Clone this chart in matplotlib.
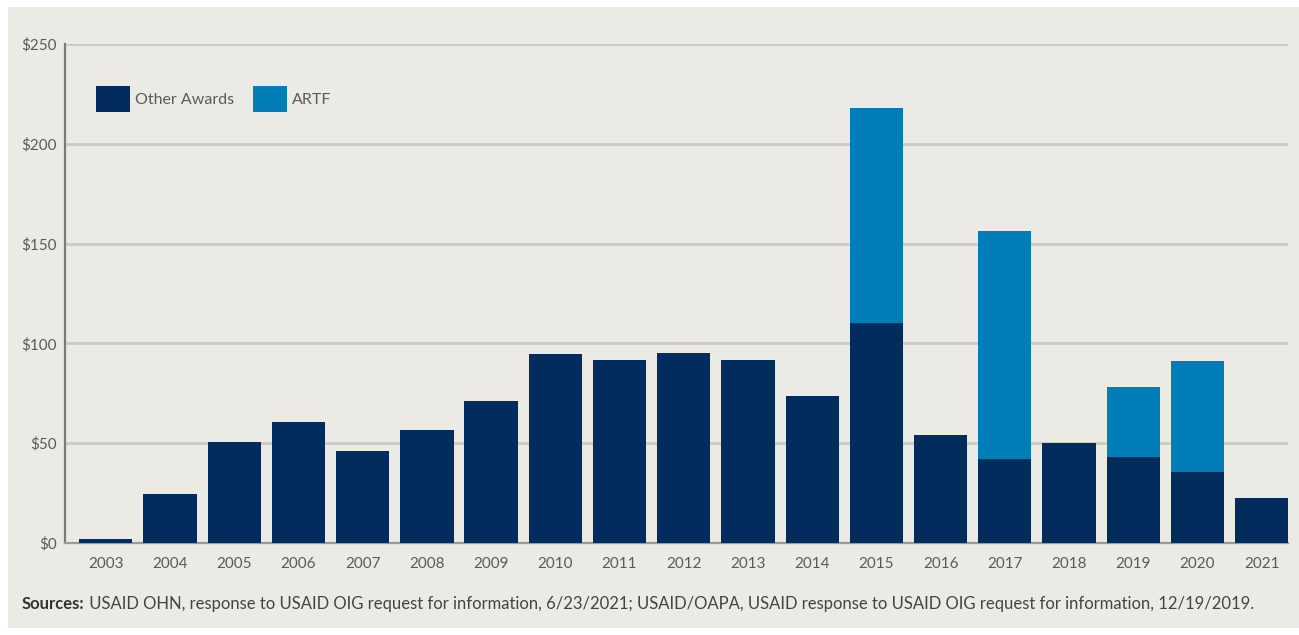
import matplotlib.pyplot as plt
from matplotlib.patches import Rectangle
import numpy as np

# Montos anuales en millones de dolares
anios = ["2003", "2004", "2005", "2006", "2007", "2008", "2009", "2010", "2011", "2012",
         "2013", "2014", "2015", "2016", "2017", "2018", "2019", "2020", "2021"]
otros_premios = [1.9, 24.5, 50.4, 60.7, 46.2, 56.5, 71.2, 94.7, 91.5, 95.2,
                 91.9, 73.4, 110.3, 54.0, 41.9, 50.2, 43.2, 35.6, 22.3]
artf = [0, 0, 0, 0, 0, 0, 0, 0, 0, 0,
        0, 0, 107.6, 0, 114.5, 0, 35.0, 55.7, 0]
ticks_y = [0, 50, 100, 150, 200, 250]

color_otros = "#022b5e"
color_artf = "#017db8"
fondo = "#ebeae4"
gris_texto = "#5a5a5a"
fuente = ["Lato", "DejaVu Sans"]

fig = plt.figure(figsize=(12.99, 6.35), dpi=100)
fig.patch.set_facecolor("white")
# panel de fondo
fig.patches.append(Rectangle((8 / 1299, 7 / 635), 1291 / 1299, 621 / 635,
                             transform=fig.transFigure, facecolor=fondo,
                             edgecolor="none", zorder=-5))

ax = fig.add_axes([65 / 1299, 92 / 635, 1223 / 1299, 499 / 635])
ax.set_facecolor("none")

x = np.arange(len(anios))
ancho = 0.83
ax.bar(x, otros_premios, ancho, color=color_otros, label="Other Awards", zorder=3)
ax.bar(x, artf, ancho, bottom=otros_premios, color=color_artf, label="ARTF", zorder=3)

ax.set_xlim(-0.636, 18.41)
ax.set_ylim(0, 250)
ax.set_yticks(ticks_y)
ax.set_yticklabels(["$" + str(v) for v in ticks_y], family=fuente, fontsize=11,
                   color=gris_texto)
ax.set_xticks(x)
ax.set_xticklabels(anios, family=fuente, fontsize=11, color=gris_texto)
ax.tick_params(axis="both", length=0)
ax.tick_params(axis="y", pad=6)
ax.tick_params(axis="x", pad=10)

for v in ticks_y[1:]:
    ax.axhline(v, color="#cbcac5", linewidth=2, zorder=1)

for lado in ["top", "right"]:
    ax.spines[lado].set_visible(False)
ax.spines["left"].set_color("#7a7a7a")
ax.spines["left"].set_linewidth(1.6)
ax.spines["bottom"].set_color("#9a9a9a")
ax.spines["bottom"].set_linewidth(1.6)

leg = ax.legend(loc="upper left", bbox_to_anchor=(0.014, 0.945), ncol=2, frameon=False,
                handlelength=2.1, handleheight=2.1, handletextpad=0.3,
                columnspacing=1.2, prop={"family": fuente, "size": 11.5})
for t in leg.get_texts():
    t.set_color(gris_texto)

# nota de fuentes al pie, con la palabra inicial en negrita
fuentes = fig.text(22 / 1299, 1 - 604 / 635, "Sources:", family=fuente, fontsize=12,
                   fontweight="bold", color="#333333", va="center")
fig.add_artist(plt.Annotation(
    " USAID OHN, response to USAID OIG request for information, 6/23/2021; "
    "USAID/OAPA, USAID response to USAID OIG request for information, 12/19/2019.",
    xy=(1, 0.5), xycoords=fuentes, va="center", ha="left",
    family=fuente, fontsize=12, color="#444444"))

fig.savefig("out.png", dpi=100, facecolor=fig.get_facecolor())
